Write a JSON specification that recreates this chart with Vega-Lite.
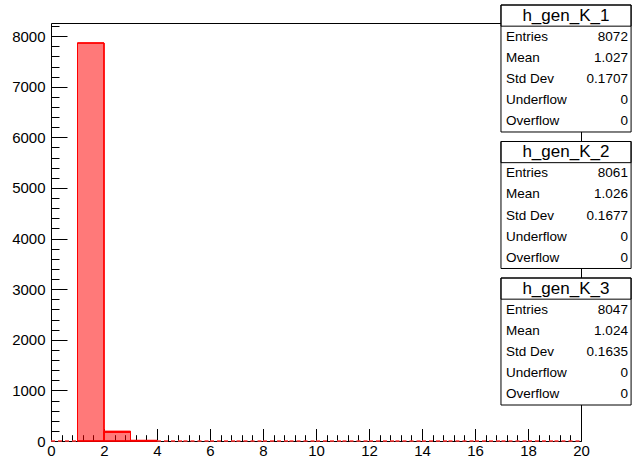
{
  "$schema": "https://vega.github.io/schema/vega-lite/v6.json",
  "width": 530,
  "height": 418,
  "autosize": "none",
  "padding": {"left": 51, "top": 23, "right": 51, "bottom": 18},
  "background": "white",
  "config": {
    "view": {"stroke": "black", "strokeWidth": 1},
    "font": "Liberation Sans",
    "axis": {
      "labelFont": "Liberation Sans",
      "labelFontSize": 15,
      "labelColor": "black",
      "tickColor": "black",
      "tickWidth": 1,
      "domain": false,
      "grid": false,
      "labelFlush": false,
      "labelOverlap": false,
      "format": "d",
      "zindex": 1,
      "title": null
    }
  },
  "datasets": {
    "hist": [
      {"h": "h_gen_K_1", "lo": 0, "hi": 1, "n": 0},
      {"h": "h_gen_K_1", "lo": 1, "hi": 2, "n": 7865},
      {"h": "h_gen_K_1", "lo": 2, "hi": 3, "n": 195},
      {"h": "h_gen_K_1", "lo": 3, "hi": 4, "n": 12},
      {"h": "h_gen_K_1", "lo": 4, "hi": 5, "n": 0},
      {"h": "h_gen_K_1", "lo": 5, "hi": 6, "n": 0},
      {"h": "h_gen_K_1", "lo": 6, "hi": 7, "n": 0},
      {"h": "h_gen_K_1", "lo": 7, "hi": 8, "n": 0},
      {"h": "h_gen_K_1", "lo": 8, "hi": 9, "n": 0},
      {"h": "h_gen_K_1", "lo": 9, "hi": 10, "n": 0},
      {"h": "h_gen_K_1", "lo": 10, "hi": 11, "n": 0},
      {"h": "h_gen_K_1", "lo": 11, "hi": 12, "n": 0},
      {"h": "h_gen_K_1", "lo": 12, "hi": 13, "n": 0},
      {"h": "h_gen_K_1", "lo": 13, "hi": 14, "n": 0},
      {"h": "h_gen_K_1", "lo": 14, "hi": 15, "n": 0},
      {"h": "h_gen_K_1", "lo": 15, "hi": 16, "n": 0},
      {"h": "h_gen_K_1", "lo": 16, "hi": 17, "n": 0},
      {"h": "h_gen_K_1", "lo": 17, "hi": 18, "n": 0},
      {"h": "h_gen_K_1", "lo": 18, "hi": 19, "n": 0},
      {"h": "h_gen_K_1", "lo": 19, "hi": 20, "n": 0},
      {"h": "h_gen_K_2", "lo": 1, "hi": 2, "n": 7862},
      {"h": "h_gen_K_2", "lo": 2, "hi": 3, "n": 188},
      {"h": "h_gen_K_2", "lo": 3, "hi": 4, "n": 11},
      {"h": "h_gen_K_3", "lo": 1, "hi": 2, "n": 7867},
      {"h": "h_gen_K_3", "lo": 2, "hi": 3, "n": 168},
      {"h": "h_gen_K_3", "lo": 3, "hi": 4, "n": 12}
    ],
    "stats": [
      {"box": "h_gen_K_1", "row": 0, "label": "h_gen_K_1", "value": ""},
      {"box": "h_gen_K_1", "row": 1, "label": "Entries", "value": "8072"},
      {"box": "h_gen_K_1", "row": 2, "label": "Mean", "value": "1.027"},
      {"box": "h_gen_K_1", "row": 3, "label": "Std Dev", "value": "0.1707"},
      {"box": "h_gen_K_1", "row": 4, "label": "Underflow", "value": "0"},
      {"box": "h_gen_K_1", "row": 5, "label": "Overflow", "value": "0"},
      {"box": "h_gen_K_2", "row": 0, "label": "h_gen_K_2", "value": ""},
      {"box": "h_gen_K_2", "row": 1, "label": "Entries", "value": "8061"},
      {"box": "h_gen_K_2", "row": 2, "label": "Mean", "value": "1.026"},
      {"box": "h_gen_K_2", "row": 3, "label": "Std Dev", "value": "0.1677"},
      {"box": "h_gen_K_2", "row": 4, "label": "Underflow", "value": "0"},
      {"box": "h_gen_K_2", "row": 5, "label": "Overflow", "value": "0"},
      {"box": "h_gen_K_3", "row": 0, "label": "h_gen_K_3", "value": ""},
      {"box": "h_gen_K_3", "row": 1, "label": "Entries", "value": "8047"},
      {"box": "h_gen_K_3", "row": 2, "label": "Mean", "value": "1.024"},
      {"box": "h_gen_K_3", "row": 3, "label": "Std Dev", "value": "0.1635"},
      {"box": "h_gen_K_3", "row": 4, "label": "Underflow", "value": "0"},
      {"box": "h_gen_K_3", "row": 5, "label": "Overflow", "value": "0"}
    ]
  },
  "layer": [
    {
      "data": {"name": "hist"},
      "layer": [
        {
          "transform": [{"filter": "datum.n > 0"}],
          "mark": {"type": "bar", "fill": "#ff0000", "fillOpacity": 0.22, "stroke": "#ff0000", "strokeWidth": 1},
          "encoding": {
            "x": {"field": "lo", "type": "quantitative", "scale": {"domain": [0, 20], "nice": false, "zero": false},
              "axis": {"values": [0, 2, 4, 6, 8, 10, 12, 14, 16, 18, 20], "tickSize": -12.5, "labelPadding": 14.5, "orient": "bottom"}},
            "x2": {"field": "hi"},
            "y": {"field": "n", "type": "quantitative", "scale": {"domain": [0, 8260], "nice": false},
              "axis": {"values": [0, 1000, 2000, 3000, 4000, 5000, 6000, 7000, 8000], "tickSize": -16, "labelPadding": 22, "orient": "left"}},
            "y2": {"datum": 0}
          }
        },
        {
          "transform": [{"filter": "datum.n == 0"}],
          "mark": {"type": "rule", "stroke": "#ff3333", "strokeWidth": 1.5, "strokeDash": [4, 3]},
          "encoding": {
            "x": {"field": "lo", "type": "quantitative",
              "axis": {"values": [0.4, 0.8, 1.2, 1.6, 2.4, 2.8, 3.2, 3.6, 4.4, 4.8, 5.2, 5.6, 6.4, 6.8, 7.2, 7.6, 8.4, 8.8, 9.2, 9.6, 10.4, 10.8, 11.2, 11.6, 12.4, 12.8, 13.2, 13.6, 14.4, 14.8, 15.2, 15.6, 16.4, 16.8, 17.2, 17.6, 18.4, 18.8, 19.2, 19.6], "tickSize": -6.3, "labels": false, "orient": "bottom"}},
            "x2": {"field": "hi"},
            "y": {"field": "n", "type": "quantitative",
              "axis": {"values": [200, 400, 600, 800, 1200, 1400, 1600, 1800, 2200, 2400, 2600, 2800, 3200, 3400, 3600, 3800, 4200, 4400, 4600, 4800, 5200, 5400, 5600, 5800, 6200, 6400, 6600, 6800, 7200, 7400, 7600, 7800, 8200], "tickSize": -8, "labels": false, "orient": "left"}}
          }
        }
      ],
      "resolve": {"axis": {"x": "independent", "y": "independent"}}
    },
    {
      "data": {"name": "stats"},
      "encoding": {
        "y": {"field": "box", "type": "nominal", "axis": null,
          "scale": {"domain": ["h_gen_K_1", "h_gen_K_2", "h_gen_K_3"], "range": [-18, 382], "paddingInner": 0.0696, "paddingOuter": 0}}
      },
      "layer": [
        {
          "transform": [{"filter": "datum.row == 0"}],
          "mark": {"type": "rect", "fill": "white", "stroke": "black", "strokeWidth": 1},
          "encoding": {
            "x": {"datum": 16.98, "type": "quantitative", "axis": null},
            "x2": {"datum": 21.89}
          }
        },
        {
          "transform": [{"filter": "datum.row == 0"}],
          "mark": {"type": "rect", "fill": null, "fillOpacity": 0, "stroke": "black", "strokeWidth": 1},
          "encoding": {
            "x": {"datum": 16.98, "type": "quantitative", "axis": null},
            "x2": {"datum": 21.89},
            "yOffset": {"field": "row", "type": "ordinal", "scale": {"domain": [0, 1, 2, 3, 4, 5], "paddingInner": 0, "paddingOuter": 0}}
          }
        },
        {
          "transform": [{"filter": "datum.row == 0"}],
          "mark": {"type": "text", "fontSize": 17, "align": "center", "baseline": "middle", "color": "black", "font": "Liberation Sans"},
          "encoding": {
            "x": {"datum": 19.43, "type": "quantitative", "axis": null},
            "yOffset": {"field": "row", "type": "ordinal"},
            "text": {"field": "label"}
          }
        },
        {
          "transform": [{"filter": "datum.row > 0"}],
          "mark": {"type": "text", "fontSize": 13.5, "align": "left", "baseline": "middle", "color": "black", "font": "Liberation Sans"},
          "encoding": {
            "x": {"datum": 17.17, "type": "quantitative", "axis": null},
            "yOffset": {"field": "row", "type": "ordinal"},
            "text": {"field": "label"}
          }
        },
        {
          "transform": [{"filter": "datum.row > 0"}],
          "mark": {"type": "text", "fontSize": 13.5, "align": "right", "baseline": "middle", "color": "black", "font": "Liberation Sans"},
          "encoding": {
            "x": {"datum": 21.77, "type": "quantitative", "axis": null},
            "yOffset": {"field": "row", "type": "ordinal"},
            "text": {"field": "value"}
          }
        }
      ]
    }
  ],
  "resolve": {"scale": {"y": "independent"}, "axis": {"x": "independent", "y": "independent"}}
}
